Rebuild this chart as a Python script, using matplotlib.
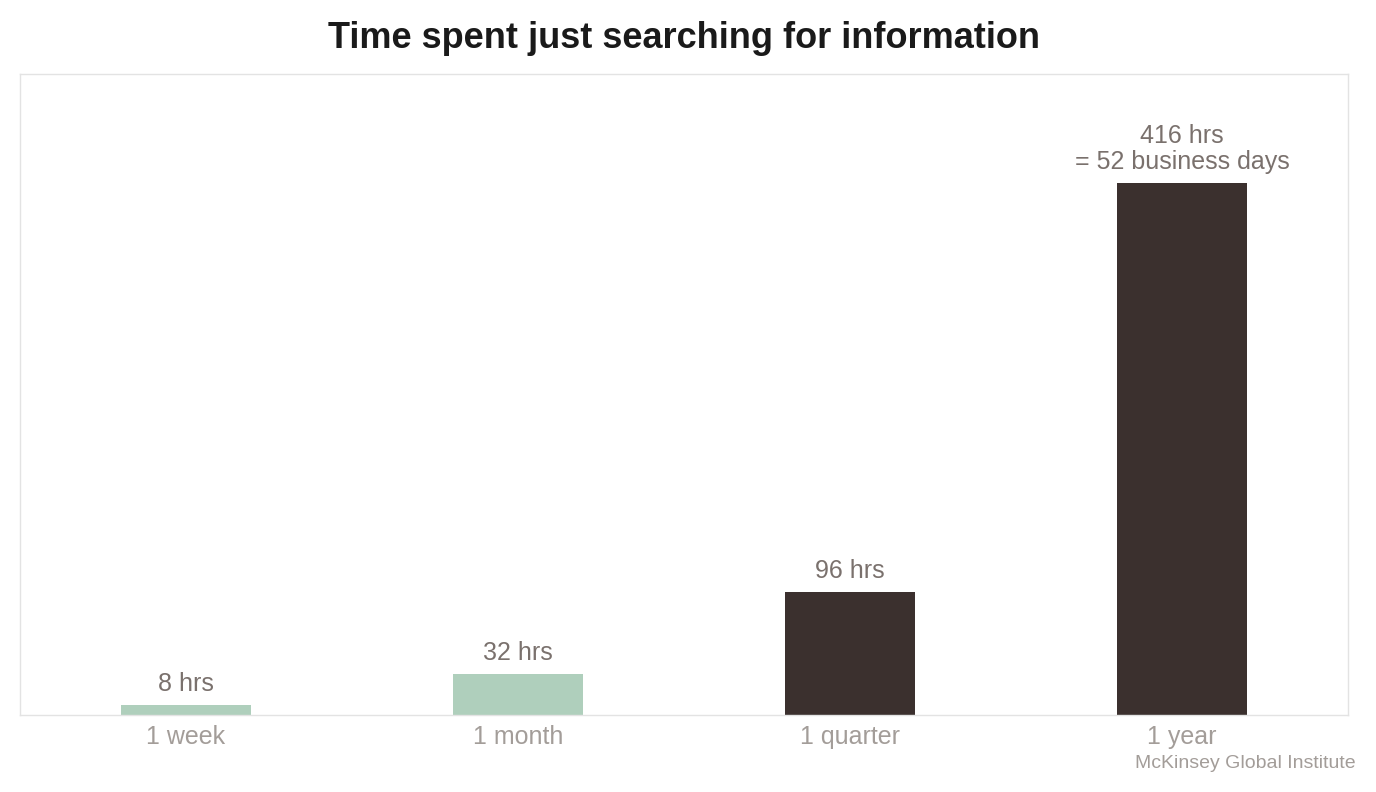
import matplotlib.pyplot as plt

plt.rcParams["font.family"] = ["Liberation Sans", "DejaVu Sans"]

periods = ["1 week", "1 month", "1 quarter", "1 year"]
hours = [8, 32, 96, 416]
value_labels = ["8 hrs", "32 hrs", "96 hrs", "416 hrs\n= 52 business days"]
bar_colors = ["#afcfbc", "#afcfbc", "#3b302e", "#3b302e"]

fig = plt.figure(figsize=(13.76, 7.92), dpi=100)
ax = fig.add_axes([0.0145, 0.0972, 0.9652, 0.8094])

x = range(len(periods))
bars = ax.bar(x, hours, width=0.39, color=bar_colors)

for bar, lab in zip(bars, value_labels):
    ax.annotate(lab, xy=(bar.get_x() + bar.get_width() / 2, bar.get_height()),
                xytext=(0, 6.5), textcoords="offset points",
                ha="center", va="bottom", fontsize=18, color="#7a716d",
                linespacing=1.1)

ax.set_xlim(-0.5, 3.5)
ax.set_ylim(0, 501)
ax.set_xticks(list(x))
ax.set_xticklabels(periods, fontsize=18, color="#a39d99")
ax.tick_params(axis="x", length=0, pad=7.5)
ax.set_yticks([])
for sp in ax.spines.values():
    sp.set_color("#e3e3e3")
    sp.set_linewidth(1)

fig.suptitle("Time spent just searching for information", fontsize=26,
             fontweight="bold", color="#1a1a1a", x=0.497, y=0.951, va="center")
fig.text(0.985, 0.036, "McKinsey Global Institute", ha="right", va="center",
         fontsize=14, color="#a39d99")

fig.savefig("out.png", dpi=100)
